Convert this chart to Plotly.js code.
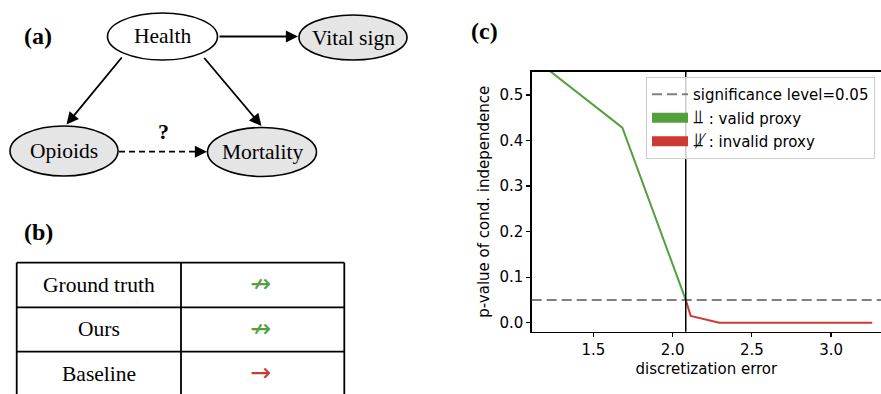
<!DOCTYPE html>
<html>
<head>
<meta charset="utf-8">
<script src="https://cdn.plot.ly/plotly-3.0.1.min.js"></script>
<style>html,body{margin:0;padding:0;background:#fff;}#chart{width:881px;height:394px;}</style>
</head>
<body>
<div id="chart"></div>
<script>
// ---------------- data ----------------
// panel (c): p-value of conditional independence vs discretization error
const validX = [1.213, 1.683, 2.083];
const validY = [0.556, 0.428, 0.05];
const invalidX = [2.083, 2.114, 2.295, 3.26];
const invalidY = [0.05, 0.015, 0.0, 0.0];
const threshold = 2.083;          // vertical line
const significance = 0.05;        // dashed line
const xTicks = [1.5, 2.0, 2.5, 3.0];
const yTicks = [0.0, 0.1, 0.2, 0.3, 0.4, 0.5];
const indepSymbol = '\u2AEB';
const notIndepSymbol = '\u2AEB\u0338';
const legendNames = ['significance level=0.05', ' : valid proxy', ' : invalid proxy'];

// panel (a): causal graph
const nodeNames = ['Health', 'Vital sign', 'Opioids', 'Mortality'];
const nodeObserved = [false, true, true, true];
const questionMark = '?';

// panel (b): table
const methods = ['Ground truth', 'Ours', 'Baseline'];
const results = ['\u219B', '\u219B', '\u2192'];
const resultValid = [true, true, false];

// ---------------- styling / layout ----------------
const W = 881, H = 394;
const X = p => p / W;
const Y = p => 1 - p / H;
const GREEN = '#52a03e', RED = '#cc3a33', GREY = '#808080';
const SERIF = 'Liberation Serif';
const SANS = 'DejaVu Sans';

const shapes = [], annotations = [];

// panel labels
[['(a)', 37.5, 36], ['(b)', 38.5, 232], ['(c)', 484, 31]].forEach(([t, x, y]) => {
  annotations.push({text: '<b>' + t + '</b>', x: X(x), y: Y(y), xref: 'paper', yref: 'paper',
    showarrow: false, font: {family: SERIF, size: 24, color: '#000'}, xanchor: 'center', yanchor: 'middle'});
});

// nodes (ellipses)
const nodeGeom = [
  {cx: 162.5, cy: 36.5, rx: 55, ry: 23.5},
  {cx: 353, cy: 37.5, rx: 54, ry: 22.5},
  {cx: 64, cy: 151, rx: 54, ry: 25},
  {cx: 262, cy: 152, rx: 54.5, ry: 24.5}
];
nodeNames.forEach((name, i) => {
  const g = nodeGeom[i];
  shapes.push({type: 'circle', xref: 'paper', yref: 'paper',
    x0: X(g.cx - g.rx), x1: X(g.cx + g.rx), y0: Y(g.cy + g.ry), y1: Y(g.cy - g.ry),
    line: {color: '#000', width: 1.6}, fillcolor: nodeObserved[i] ? '#e5e5e5' : '#ffffff'});
  annotations.push({text: name, x: X(g.cx), y: Y(g.cy), xref: 'paper', yref: 'paper', showarrow: false,
    font: {family: SERIF, size: 21.5, color: '#000'}, xanchor: 'center', yanchor: 'middle'});
});

// edges
const edges = [
  {tip: [298, 36.5], ax: -80, ay: 0},
  {tip: [66.5, 124.5], ax: 56.5, ay: -68.5},
  {tip: [261.5, 126], ax: -58.5, ay: -69.5}
];
edges.forEach(e => {
  annotations.push({text: '', x: X(e.tip[0]), y: Y(e.tip[1]), xref: 'paper', yref: 'paper',
    showarrow: true, arrowhead: 2, arrowsize: 1.35, arrowwidth: 1.8, arrowcolor: '#000',
    ax: e.ax, ay: e.ay, axref: 'pixel', ayref: 'pixel', standoff: 0, startstandoff: 0});
});
// dashed edge Opioids -> Mortality
shapes.push({type: 'line', xref: 'paper', yref: 'paper', x0: X(119), x1: X(200), y0: Y(151.7), y1: Y(151.7),
  line: {color: '#000', width: 1.8, dash: '6px,4px'}});
annotations.push({text: '', x: X(207), y: Y(151.7), xref: 'paper', yref: 'paper',
  showarrow: true, arrowhead: 2, arrowsize: 1.35, arrowwidth: 1.8, arrowcolor: '#000',
  ax: -9, ay: 0, axref: 'pixel', ayref: 'pixel', standoff: 0});
annotations.push({text: '<b>' + questionMark + '</b>', x: X(163.5), y: Y(131), xref: 'paper', yref: 'paper',
  showarrow: false, font: {family: SERIF, size: 22, color: '#000'}, xanchor: 'center', yanchor: 'middle'});

// table (b)
const tl = 16.7, tm = 181, tr = 344.3, rowTops = [262.7, 307.3, 351.7], rowH = 44.5;
rowTops.forEach(yy => {
  shapes.push({type: 'line', xref: 'paper', yref: 'paper', x0: X(tl), x1: X(tr), y0: Y(yy), y1: Y(yy),
    line: {color: '#000', width: 1.8}});
});
[tl, tm, tr].forEach(xx => {
  shapes.push({type: 'line', xref: 'paper', yref: 'paper', x0: X(xx), x1: X(xx), y0: Y(rowTops[0]), y1: Y(H + 5),
    line: {color: '#000', width: 1.8}});
});
methods.forEach((m, i) => {
  const cy = rowTops[0] + rowH * (i + 0.5);
  annotations.push({text: m, x: X((tl + tm) / 2), y: Y(cy), xref: 'paper', yref: 'paper', showarrow: false,
    font: {family: SERIF, size: 21.5, color: '#000'}, xanchor: 'center', yanchor: 'middle'});
  annotations.push({text: results[i], x: X(260), y: Y(cy - 1), xref: 'paper', yref: 'paper', showarrow: false,
    font: {family: SANS, size: 25, color: resultValid[i] ? GREEN : RED}, xanchor: 'center', yanchor: 'middle'});
});

// panel (c) reference lines
shapes.push({type: 'line', xref: 'x domain', yref: 'y', x0: 0, x1: 1, y0: significance, y1: significance,
  line: {color: GREY, width: 2, dash: '10px,5px'}, layer: 'above'});
shapes.push({type: 'line', xref: 'x', yref: 'y domain', x0: threshold, x1: threshold, y0: 0, y1: 1,
  line: {color: '#000', width: 1.5}, layer: 'above'});

const sym = s => '<span style="font-size:19px">' + s + '</span>';
const traces = [
  {x: validX, y: validY, mode: 'lines', line: {color: GREEN, width: 2}, showlegend: false, hoverinfo: 'skip'},
  {x: invalidX, y: invalidY, mode: 'lines', line: {color: RED, width: 2}, showlegend: false, hoverinfo: 'skip'},
  // legend proxies
  {x: [null], y: [null], mode: 'lines', name: legendNames[0], line: {color: GREY, width: 2, dash: '10px,5px'}, legendgroup: 'a'},
  {x: [null], y: [null], mode: 'lines', name: sym(indepSymbol) + legendNames[1], line: {color: GREEN, width: 10}, legendgroup: 'b'},
  {x: [null], y: [null], mode: 'lines', name: sym(notIndepSymbol) + legendNames[2], line: {color: RED, width: 10}, legendgroup: 'c'}
];

const axisFont = {family: SANS, size: 15, color: '#000'};
const layout = {
  width: W, height: H,
  margin: {l: 0, r: 0, t: 0, b: 0},
  paper_bgcolor: '#fff', plot_bgcolor: '#fff',
  showlegend: true,
  legend: {x: X(646), y: Y(77), xanchor: 'left', yanchor: 'top', bgcolor: 'rgba(255,255,255,0.8)',
    bordercolor: '#cccccc', borderwidth: 1, font: axisFont, itemwidth: 36, traceorder: 'grouped', tracegroupgap: 1},
  xaxis: {domain: [X(531.7), 1], range: [1.111, 3.315], tickvals: xTicks, tickformat: '.1f',
    ticks: 'outside', ticklen: 4, tickwidth: 1.2, tickcolor: '#000', showline: true, linecolor: '#000', linewidth: 1.3,
    mirror: true, showgrid: false, zeroline: false, tickfont: axisFont,
    title: {text: 'discretization error', font: axisFont, standoff: 5}},
  yaxis: {domain: [Y(331.7), Y(71.7)], range: [-0.0198, 0.551], tickvals: yTicks, tickformat: '.1f',
    ticks: 'outside', ticklen: 4, tickwidth: 1.2, tickcolor: '#000', showline: true, linecolor: '#000', linewidth: 1.3,
    showgrid: false, zeroline: false, tickfont: axisFont,
    title: {text: 'p-value of cond. independence', font: axisFont, standoff: 6}},
  shapes: shapes,
  annotations: annotations
};

Plotly.newPlot('chart', traces, layout, {displayModeBar: false, staticPlot: true});
</script>
</body>
</html>
